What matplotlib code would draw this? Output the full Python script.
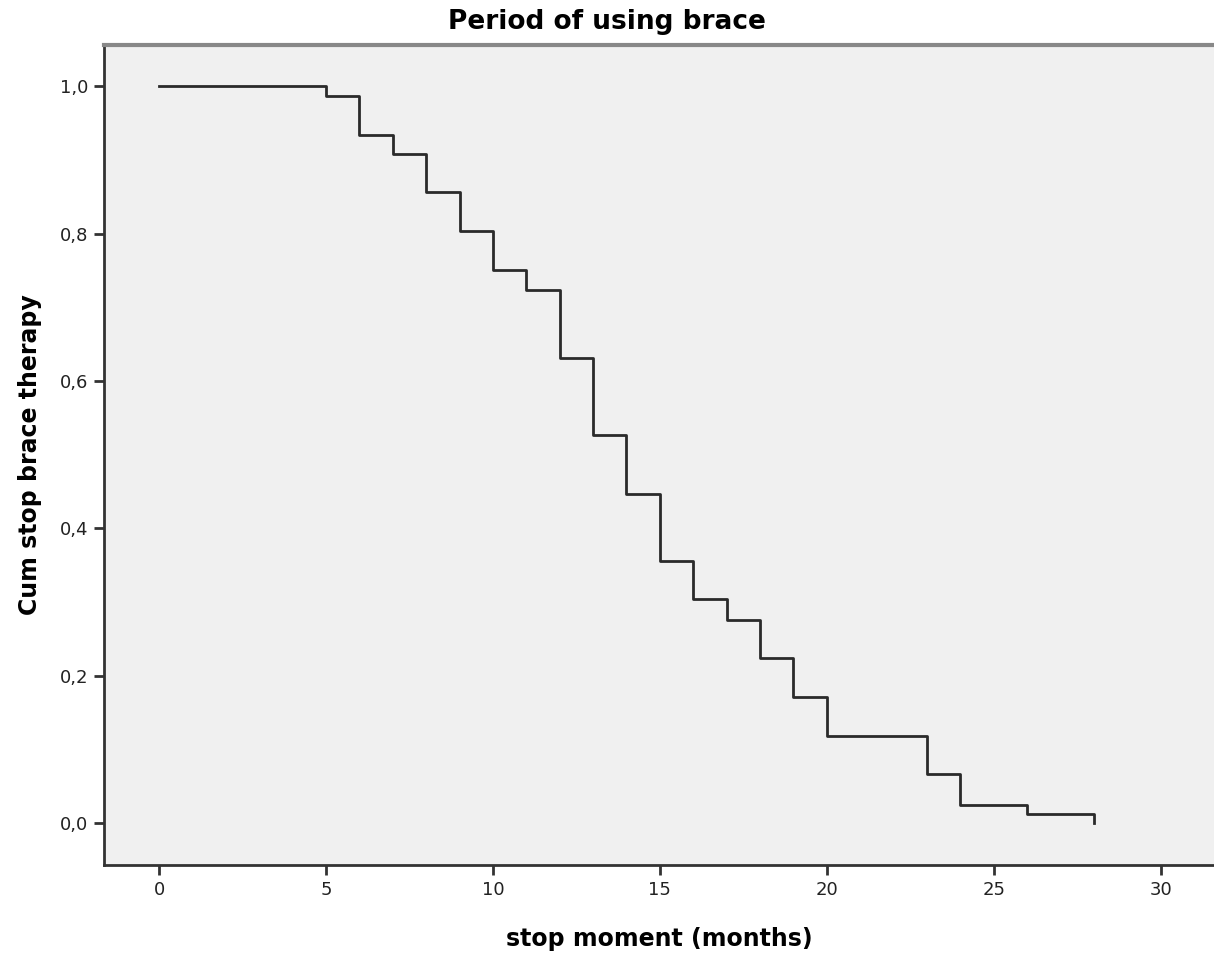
import matplotlib.pyplot as plt
from matplotlib.ticker import FuncFormatter

plt.rcParams['font.family'] = ['DejaVu Sans']

# Kaplan-Meier step values
months = [0, 5, 6, 7, 8, 9, 10, 11, 12, 13, 14, 15, 16, 17, 18, 19, 20, 23, 24, 26, 28]
cum_stop = [1.0, 0.987, 0.934, 0.908, 0.856, 0.803, 0.751, 0.723, 0.631, 0.526,
            0.446, 0.355, 0.304, 0.276, 0.224, 0.171, 0.118, 0.066, 0.025, 0.0126, 0.0]

x_ticks = [0, 5, 10, 15, 20, 25, 30]
y_ticks = [0.0, 0.2, 0.4, 0.6, 0.8, 1.0]

fig = plt.figure(figsize=(12.14, 9.58), dpi=100)
ax = fig.add_axes([104 / 1214, 1 - 865 / 958, 1 - 104 / 1214, (865 - 45) / 958])
ax.set_facecolor('#f0f0f0')

ax.step(months, cum_stop, where='post', color='#2a2a2a', lw=2)

ax.set_xlim(-1.65, 31.6)
ax.set_ylim(-0.057, 1.056)
ax.set_xticks(x_ticks)
ax.set_yticks(y_ticks)
ax.yaxis.set_major_formatter(FuncFormatter(lambda v, p: f"{v:.1f}".replace('.', ',')))

for side in ['left', 'bottom']:
    ax.spines[side].set_color('#333333')
    ax.spines[side].set_linewidth(2)
ax.spines['top'].set_color('#888888')
ax.spines['top'].set_linewidth(3)
ax.spines['right'].set_visible(False)

ax.tick_params(direction='out', length=7.5, width=2, color='#333333',
               labelsize=13, labelcolor='#222222', pad=4)

ax.set_xlabel('stop moment (months)', fontsize=17, fontweight='bold', va='top')
ax.xaxis.set_label_coords(0.5, (865 - 927) / 820)
ax.set_ylabel('Cum stop brace therapy', fontsize=17, fontweight='bold')
ax.yaxis.set_label_coords((42 - 104) / 1110, 0.5)
fig.text(0.5, 1 - 29 / 958, 'Period of using brace', ha='center', va='baseline',
         fontsize=19, fontweight='bold')

fig.savefig('out.png', dpi=100)
